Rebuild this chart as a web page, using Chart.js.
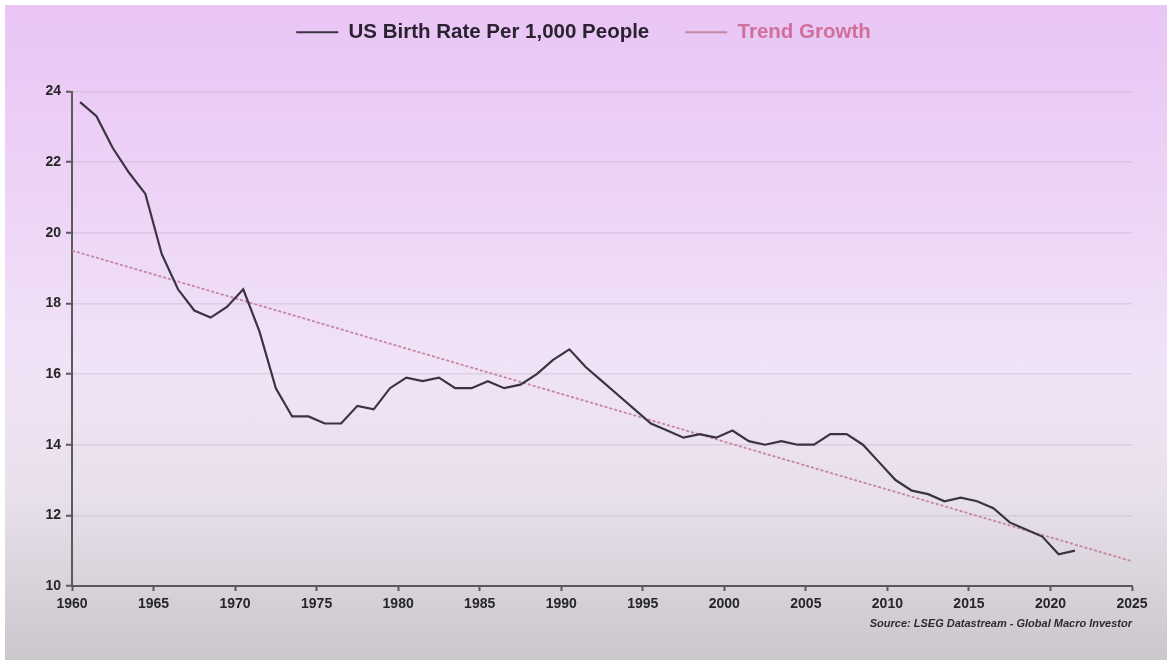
<!DOCTYPE html>
<html>
<head>
<meta charset="utf-8">
<title>US Birth Rate</title>
<script src="https://cdn.jsdelivr.net/npm/chart.js@4.4.1/dist/chart.umd.min.js"></script>
<style>
  html, body { margin: 0; padding: 0; background: #ffffff; }
  #wrap {
    position: absolute; left: 5px; top: 5px; width: 1162px; height: 655px;
    background: linear-gradient(to bottom, #e9c5f5 0%, #edd3f6 28%, #f1e3f7 55%, #e8e0eb 75%, #cbc7cd 100%);
  }
</style>
</head>
<body>
<div id="wrap"><canvas id="graph" width="1162" height="655"></canvas></div>
<script>
const canva = document.getElementById("graph")
const ctx = canva.getContext("2d")

// annual values, plotted at mid-year
const years = [
  1960, 1961, 1962, 1963, 1964, 1965, 1966, 1967, 1968, 1969,
  1970, 1971, 1972, 1973, 1974, 1975, 1976, 1977, 1978, 1979,
  1980, 1981, 1982, 1983, 1984, 1985, 1986, 1987, 1988, 1989,
  1990, 1991, 1992, 1993, 1994, 1995, 1996, 1997, 1998, 1999,
  2000, 2001, 2002, 2003, 2004, 2005, 2006, 2007, 2008, 2009,
  2010, 2011, 2012, 2013, 2014, 2015, 2016, 2017, 2018, 2019,
  2020, 2021
]
const birthRate = [
  23.7, 23.3, 22.4, 21.7, 21.1, 19.4, 18.4, 17.8, 17.6, 17.9,
  18.4, 17.2, 15.6, 14.8, 14.8, 14.6, 14.6, 15.1, 15.0, 15.6,
  15.9, 15.8, 15.9, 15.6, 15.6, 15.8, 15.6, 15.7, 16.0, 16.4,
  16.7, 16.2, 15.8, 15.4, 15.0, 14.6, 14.4, 14.2, 14.3, 14.2,
  14.4, 14.1, 14.0, 14.1, 14.0, 14.0, 14.3, 14.3, 14.0, 13.5,
  13.0, 12.7, 12.6, 12.4, 12.5, 12.4, 12.2, 11.8, 11.6, 11.4,
  10.9, 11.0
]
const trendYears = [1960, 2025]
const trendValues = [19.5, 10.7]

const seriesLabels = ["US Birth Rate Per 1,000 People", "Trend Growth"]
const legendTextColors = ["#2a2230", "#d0709a"]
const sourceText = "Source: LSEG Datastream - Global Macro Investor"

const fontFamily = "'Liberation Sans', Arial, sans-serif"

// push the plot area down below the legend and nudge the legend row right
const legendGap = {
  id: "legendGap",
  beforeInit: (chart) => {
    const fit = chart.legend.fit
    chart.legend.fit = function () {
      fit.bind(chart.legend)()
      this.height += 39
      this.lineWidths = this.lineWidths.map(w => w - 30)
    }
  }
}

new Chart(ctx, {
  type: "line",
  data: {
    datasets: [{
      label: seriesLabels[0],
      data: years.map((y, i) => ({ x: y + 0.5, y: birthRate[i] })),
      borderColor: "#3a3440",
      borderWidth: 2.2,
      pointRadius: 0,
      tension: 0,
      order: 1
    }, {
      label: seriesLabels[1],
      data: trendYears.map((y, i) => ({ x: y, y: trendValues[i] })),
      borderColor: "#c3879f",
      borderWidth: 1.8,
      borderDash: [3, 2],
      pointRadius: 0,
      order: 2
    }]
  },
  options: {
    responsive: false,
    animation: false,
    devicePixelRatio: 1,
    layout: { padding: { top: -19, left: 0, right: 35, bottom: 0 } },
    plugins: {
      legend: {
        labels: {
          usePointStyle: true,
          pointStyle: "line",
          pointStyleWidth: 42,
          padding: 36,
          font: { family: fontFamily, size: 20.5, weight: "bold" },
          generateLabels: (chart) => {
            const items = Chart.defaults.plugins.legend.labels.generateLabels(chart)
            items.forEach((item, i) => { item.fontColor = legendTextColors[i] })
            return items
          }
        }
      },
      subtitle: {
        display: true,
        text: sourceText,
        position: "bottom",
        align: "end",
        fullSize: false,
        color: "#2c2c2c",
        font: { family: fontFamily, size: 11, weight: "bold", style: "italic" },
        padding: { top: 0, bottom: 29 }
      },
      tooltip: { enabled: false }
    },
    scales: {
      x: {
        type: "linear",
        min: 1960,
        max: 2025,
        ticks: {
          stepSize: 5,
          padding: 5,
          color: "#262626",
          font: { family: fontFamily, size: 14, weight: "bold" },
          callback: (v) => String(v)
        },
        grid: {
          drawOnChartArea: false,
          tickLength: 5,
          tickColor: "#5a5a5a",
          tickWidth: 2
        },
        border: { color: "#5a5a5a", width: 2 }
      },
      y: {
        min: 10,
        max: 24,
        afterFit: (scale) => { scale.width = 67 },
        ticks: {
          stepSize: 2,
          padding: 5,
          color: "#262626",
          font: { family: fontFamily, size: 14, weight: "bold" }
        },
        grid: {
          color: "rgba(150, 120, 160, 0.18)",
          lineWidth: 1.5,
          tickLength: 6,
          tickColor: "#5a5a5a",
          tickWidth: 2
        },
        border: { color: "#5a5a5a", width: 2 }
      }
    }
  },
  plugins: [legendGap]
})
</script>
</body>
</html>
